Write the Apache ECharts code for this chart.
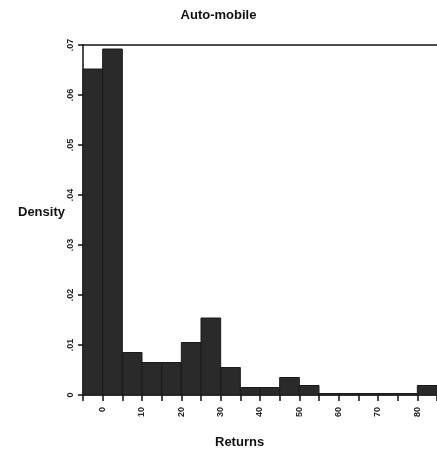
<!DOCTYPE html>
<html>
<head>
<meta charset="utf-8">
<script src="https://cdn.jsdelivr.net/npm/echarts@6/dist/echarts.min.js"></script>
<style>
  html, body { margin: 0; padding: 0; background: #fff; }
  #chart { width: 437px; height: 458px; }
</style>
</head>
<body>
<div id="chart"></div>
<script>
// 直方图数据：每个箱的左边界、宽度、密度（单位 .01）
const binStart = -5;
const binWidth = 5;
const density = [6.52, 6.92, 0.85, 0.65, 0.65, 1.05, 1.54, 0.55, 0.15, 0.15, 0.35, 0.19, 0.03, 0.03, 0.03, 0.03, 0.03, 0.19];

// 刻度标签
const yTicks = [0, 1, 2, 3, 4, 5, 6, 7];
const yTickLabels = ['0', '.01', '.02', '.03', '.04', '.05', '.06', '.07'];
const xLabelEvery = 10;

const FONT = '"Liberation Sans", Arial, sans-serif';

let bars = density.map(function (d, i) {
    let x0 = binStart + i * binWidth;
    return [x0, x0 + binWidth, d];
});

let chart = echarts.init(document.getElementById('chart'), null, { renderer: 'canvas' });

chart.setOption({
    animation: false,
    backgroundColor: '#fff',
    title: {
        text: 'Auto-mobile',
        left: 'center',
        top: 4,
        textStyle: { fontFamily: FONT, fontSize: 13, fontWeight: 'bold', color: '#111' }
    },
    grid: { left: 83, right: 0, top: 45, bottom: 63 },
    xAxis: [{
        type: 'value',
        min: -5,
        max: 85,
        interval: 5,
        splitLine: { show: false },
        axisLine: { onZero: false, lineStyle: { color: '#111', width: 1.5 } },
        axisTick: { length: 6, lineStyle: { color: '#111', width: 1.5 } },
        axisLabel: {
            rotate: 90,
            margin: 12,
            fontFamily: FONT,
            fontSize: 9,
            fontWeight: 'bold',
            color: '#222',
            formatter: function (v) {
                if (v < 0 || v >= 85 || v % xLabelEvery !== 0) return '';
                return String(v);
            }
        }
    }, {
        // 顶部边框线
        type: 'value',
        position: 'top',
        min: -5,
        max: 85,
        axisLine: { onZero: false, lineStyle: { color: '#111', width: 1.5 } },
        axisTick: { show: false },
        axisLabel: { show: false },
        splitLine: { show: false }
    }],
    yAxis: {
        type: 'value',
        min: 0,
        max: 7,
        interval: 1,
        splitLine: { show: false },
        axisLine: { show: true, onZero: false, lineStyle: { color: '#111', width: 1.5 } },
        axisTick: { show: true, length: 5, lineStyle: { color: '#111', width: 1.5 } },
        axisLabel: {
            rotate: 90,
            margin: 8,
            fontFamily: FONT,
            fontSize: 9,
            fontWeight: 'bold',
            color: '#222',
            formatter: function (v) {
                let idx = yTicks.indexOf(v);
                return idx >= 0 ? yTickLabels[idx] : '';
            }
        }
    },
    graphic: [{
        type: 'text',
        left: 18,
        top: 206,
        style: { text: 'Density', font: 'bold 13px ' + FONT, fill: '#111' }
    }, {
        type: 'text',
        left: 215,
        top: 436,
        style: { text: 'Returns', font: 'bold 13px ' + FONT, fill: '#111' }
    }],
    series: [{
        type: 'custom',
        xAxisIndex: 0,
        data: bars,
        renderItem: function (params, api) {
            let p0 = api.coord([api.value(0), api.value(2)]);
            let p1 = api.coord([api.value(1), 0]);
            return {
                type: 'rect',
                shape: { x: p0[0], y: p0[1], width: p1[0] - p0[0], height: p1[1] - p0[1] },
                style: { fill: '#2a2a2a', stroke: '#1a1a1a', lineWidth: 1 }
            };
        }
    }]
});
</script>
</body>
</html>
